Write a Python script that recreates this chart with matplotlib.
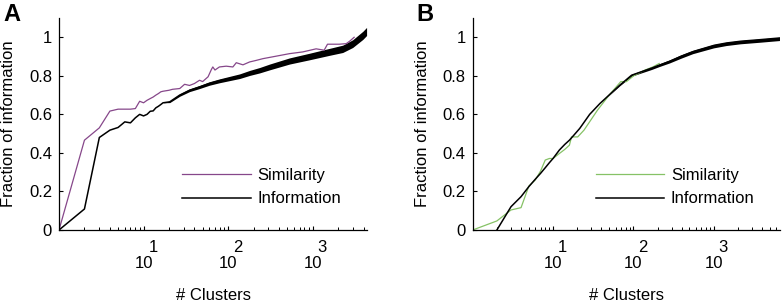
import matplotlib
matplotlib.use("Agg")
import matplotlib.pyplot as plt
import matplotlib.transforms as mtransforms
import numpy as np

plt.rcParams["font.family"] = ["Liberation Sans", "DejaVu Sans"]
plt.rcParams["font.size"] = 12

# Panel A - similarity (purple)
sim_a_x = [1, 2, 3, 4, 5, 6, 7, 8, 9, 10, 11, 12, 13, 14, 15, 16, 17, 20, 22, 26.8, 30.6,
           35, 40, 46, 50, 58, 63.5, 66, 70, 79, 95, 114, 125, 150, 180, 215, 258, 371,
           533, 765, 1100, 1370, 1500, 2070, 2500, 2750, 3100]
sim_a_y = [0, 0.466, 0.53, 0.617, 0.627, 0.627, 0.627, 0.63, 0.668, 0.66, 0.673, 0.682, 0.69,
           0.70, 0.708, 0.717, 0.72, 0.725, 0.73, 0.734, 0.756, 0.75, 0.76, 0.777, 0.77, 0.795,
           0.833, 0.846, 0.83, 0.846, 0.85, 0.846, 0.868, 0.857, 0.872, 0.88, 0.889, 0.902,
           0.915, 0.924, 0.94, 0.933, 0.964, 0.964, 0.967, 0.98, 1.0]

# Panel A - information (black)
info_a_x = [1, 2, 3, 4, 5, 6, 7, 8, 9, 10, 11, 12, 13, 14, 15, 16, 17, 20.4, 26.8, 35, 46,
            60, 79, 104, 137, 180, 236, 310, 533, 915, 1570, 2270, 2980, 3930, 4350]
info_a_y = [0, 0.109, 0.48, 0.518, 0.532, 0.561, 0.556, 0.582, 0.60, 0.592, 0.60, 0.616, 0.618,
            0.634, 0.642, 0.651, 0.66, 0.665, 0.70, 0.725, 0.742, 0.76, 0.774, 0.786, 0.798,
            0.815, 0.829, 0.846, 0.877, 0.90, 0.924, 0.94, 0.967, 1.01, 1.03]
info_a_band = [0, 0, 0, 0, 0, 0, 0, 0, 0, 0, 0, 0, 0, 0, 0, 0, 0, 0.004, 0.006, 0.007, 0.008,
               0.009, 0.010, 0.011, 0.012, 0.013, 0.014, 0.015, 0.016, 0.017, 0.018, 0.019,
               0.020, 0.021, 0.021]

# Panel B - similarity (green)
sim_b_x = [1, 2, 3, 4, 5, 6, 7, 8, 9, 10, 12, 14, 16, 17, 20.3, 24.3, 35.8, 50, 69.8, 82,
           101, 140, 175, 210]
sim_b_y = [0, 0.047, 0.104, 0.116, 0.228, 0.259, 0.306, 0.363, 0.371, 0.371, 0.397, 0.418,
           0.44, 0.483, 0.483, 0.518, 0.622, 0.70, 0.77, 0.77, 0.80, 0.83, 0.846, 0.864]

# Panel B - information (black)
info_b_x = [2, 3, 4, 5, 6, 7, 8, 9, 10, 12, 14, 16, 18, 21.5, 28.6, 38.3, 67.6, 95, 169, 210,
            283, 390, 550, 1000, 1430, 2140, 3700, 6600]
info_b_y = [0, 0.121, 0.173, 0.225, 0.263, 0.294, 0.323, 0.349, 0.371, 0.415, 0.444, 0.466,
            0.49, 0.527, 0.60, 0.656, 0.751, 0.803, 0.84, 0.855, 0.875, 0.90, 0.924, 0.955,
            0.967, 0.976, 0.984, 0.993]
info_b_band = [0, 0, 0, 0, 0, 0, 0, 0, 0, 0, 0, 0, 0, 0, 0, 0, 0.003, 0.005, 0.007, 0.007,
               0.008, 0.009, 0.009, 0.010, 0.010, 0.010, 0.010, 0.010]

purple = "#86478a"
green = "#86c266"
ytick_vals = [0, 0.2, 0.4, 0.6, 0.8, 1]
ytick_labels = ["0", "0.2", "0.4", "0.6", "0.8", "1"]
decades = [10, 100, 1000]
exponents = ["1", "2", "3"]

fig = plt.figure(figsize=(7.82, 3.03), dpi=100)
ax_a = fig.add_axes([59 / 782, 73 / 303, 308 / 782, 212 / 303])
ax_b = fig.add_axes([472.7 / 782, 73 / 303, 307.3 / 782, 212 / 303])


def style_axis(ax, xmax):
    ax.set_xscale("log")
    ax.set_xlim(1, xmax)
    ax.set_ylim(0, 1.1)
    for s in ["top", "right"]:
        ax.spines[s].set_visible(False)
    ax.spines["left"].set_linewidth(0.9)
    ax.spines["bottom"].set_linewidth(0.9)
    ax.set_yticks(ytick_vals)
    ax.set_yticklabels(ytick_labels, fontsize=12)
    ax.tick_params(axis="y", direction="in", length=3, width=0.8, pad=5)
    ax.set_xticks(decades)
    ax.set_xticklabels([])
    ax.xaxis.set_minor_locator(matplotlib.ticker.LogLocator(base=10, subs=np.arange(2, 10)))
    ax.xaxis.set_minor_formatter(matplotlib.ticker.NullFormatter())
    ax.tick_params(axis="x", which="major", direction="in", length=3, width=0.8)
    ax.tick_params(axis="x", which="minor", direction="in", length=2, width=0.7)
    trans = mtransforms.blended_transform_factory(ax.transData, ax.transAxes)
    for d, e in zip(decades, exponents):
        ax.text(d, -34 / 212, "10", transform=trans, ha="center", va="center", fontsize=12)
        ax.annotate(e, xy=(d, -17 / 212), xycoords=trans, xytext=(7, 0),
                    textcoords="offset points", ha="center", va="center", fontsize=12)
    ax.text(0.5, -65 / 212, "# Clusters", transform=ax.transAxes, ha="center", va="center",
            fontsize=12)
    ax.set_ylabel("Fraction of information", fontsize=12, va="center")
    ax.yaxis.set_label_coords(-50 / 308, 0.5)


# Panel A
style_axis(ax_a, 4400)
ax_a.plot(sim_a_x, sim_a_y, color=purple, lw=0.9, label="Similarity")
ax_a.plot(info_a_x, info_a_y, color="black", lw=1.1, label="Information")
lo = np.array(info_a_y) - np.array(info_a_band)
hi = np.array(info_a_y) + np.array(info_a_band)
ax_a.fill_between(info_a_x, lo, hi, color="black", lw=0)

# Panel B
style_axis(ax_b, 6700)
ax_b.plot(sim_b_x, sim_b_y, color=green, lw=0.9, label="Similarity")
ax_b.plot(info_b_x, info_b_y, color="black", lw=1.1, label="Information")
lo = np.array(info_b_y) - np.array(info_b_band)
hi = np.array(info_b_y) + np.array(info_b_band)
ax_b.fill_between(info_b_x, lo, hi, color="black", lw=0)

for ax in (ax_a, ax_b):
    ax.legend(loc="upper left", bbox_to_anchor=(0.40, 0.292), frameon=False, fontsize=12,
              handlelength=4.1, handletextpad=0.42, labelspacing=0.5, borderpad=0,
              borderaxespad=0)

fig.text(12 / 782, 1 - 14.5 / 303, "A", fontsize=17, fontweight="bold", ha="center", va="center")
fig.text(425 / 782, 1 - 14.5 / 303, "B", fontsize=17, fontweight="bold", ha="center", va="center")

fig.savefig("out.png", dpi=100)
